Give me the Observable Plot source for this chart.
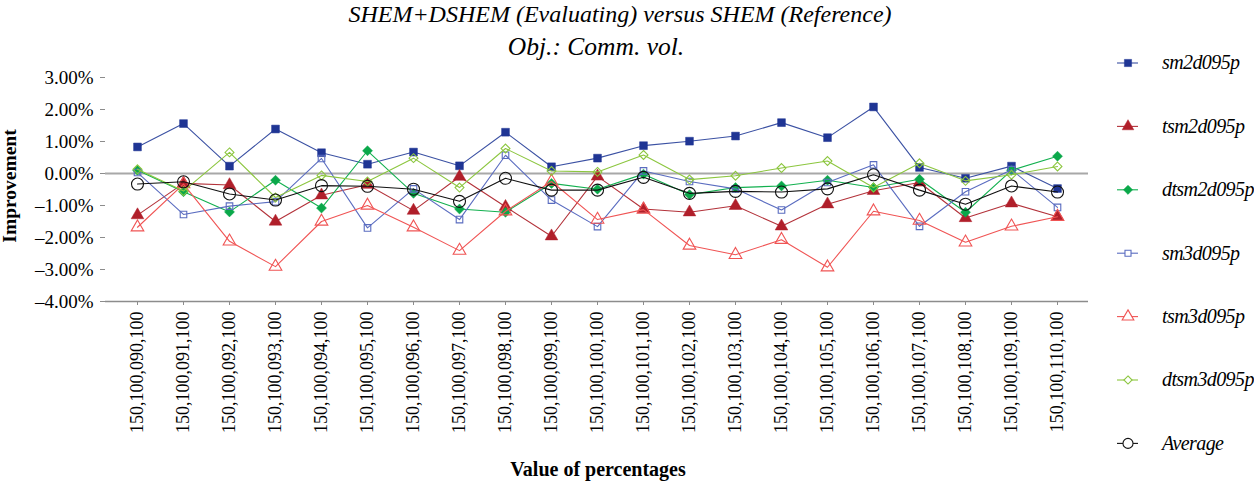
<!DOCTYPE html>
<html>
<head>
<meta charset="utf-8">
<script src="https://cdn.jsdelivr.net/npm/d3@7"></script>
<script src="https://cdn.jsdelivr.net/npm/@observablehq/plot@0.6"></script>
<style>
  html, body { margin: 0; padding: 0; background: #fff; }
  #wrap { position: relative; width: 1254px; height: 482px; overflow: hidden; font-family: "Liberation Serif", serif; color: #000; }
  #wrap svg { position: absolute; left: 0; top: 0; }
</style>
</head>
<body>
<div id="wrap"></div>
<script>
const titleText = "SHEM+DSHEM (Evaluating) versus SHEM (Reference)";
const subtitleText = "Obj.: Comm. vol.";
const yLabelText = "Improvement";
const xLabelText = "Value of percentages";

const categories = [
  "150,100,090,100","150,100,091,100","150,100,092,100","150,100,093,100","150,100,094,100",
  "150,100,095,100","150,100,096,100","150,100,097,100","150,100,098,100","150,100,099,100",
  "150,100,100,100","150,100,101,100","150,100,102,100","150,100,103,100","150,100,104,100",
  "150,100,105,100","150,100,106,100","150,100,107,100","150,100,108,100","150,100,109,100",
  "150,100,110,100"
];
const yTicks = [-4, -3, -2, -1, 0, 1, 2, 3];

// values in percent
const sm2d095p   = [0.83, 1.56, 0.23, 1.39, 0.65, 0.29, 0.67, 0.24, 1.29, 0.21, 0.48, 0.87, 1.01, 1.17, 1.59, 1.12, 2.08, 0.19, -0.15, 0.23, -0.47];
const tsm2d095p  = [-1.30, -0.31, -0.36, -1.50, -0.68, -0.35, -1.16, -0.10, -1.04, -1.96, -0.09, -1.11, -1.21, -1.01, -1.65, -0.96, -0.54, -0.28, -1.39, -0.93, -1.35];
const dtsm2d095p = [0.10, -0.57, -1.20, -0.21, -1.08, 0.71, -0.62, -1.11, -1.21, -0.31, -0.49, -0.02, -0.66, -0.44, -0.39, -0.21, -0.44, -0.18, -1.21, 0.10, 0.54];
const sm3d095p   = [0.03, -1.28, -1.02, -0.88, 0.47, -1.70, -0.48, -1.44, 0.57, -0.83, -1.66, 0.08, -0.25, -0.48, -1.14, -0.28, 0.27, -1.65, -0.57, 0.12, -1.06];
const tsm3d095p  = [-1.68, -0.33, -2.12, -2.91, -1.50, -1.00, -1.68, -2.41, -1.18, -0.25, -1.44, -1.13, -2.25, -2.54, -2.07, -2.93, -1.18, -1.47, -2.15, -1.65, -1.35];
const dtsm3d095p = [0.13, -0.55, 0.66, -0.75, -0.06, -0.25, 0.48, -0.44, 0.78, 0.08, 0.05, 0.58, -0.19, -0.07, 0.17, 0.39, -0.44, 0.32, -0.23, -0.04, 0.22];
const average    = [-0.33, -0.26, -0.64, -0.83, -0.38, -0.40, -0.49, -0.87, -0.15, -0.52, -0.52, -0.12, -0.62, -0.56, -0.58, -0.48, -0.04, -0.52, -0.96, -0.39, -0.58];

const seriesNames = ["sm2d095p", "tsm2d095p", "dtsm2d095p", "sm3d095p", "tsm3d095p", "dtsm3d095p", "Average"];
const seriesValues = [sm2d095p, tsm2d095p, dtsm2d095p, sm3d095p, tsm3d095p, dtsm3d095p, average];

const styles = [
  {line: "#3b51a3", symbol: "square",   fill: "#1f3594", stroke: "#1f3594", r: 4.4},
  {line: "#b3323a", symbol: "triangle", fill: "#b01f2a", stroke: "#b01f2a", r: 4.7},
  {line: "#12b04f", symbol: "diamond2", fill: "#0aa84a", stroke: "#0aa84a", r: 4.5},
  {line: "#5a6cc0", symbol: "square",   fill: "none",    stroke: "#5a6cc0", r: 3.7},
  {line: "#f05454", symbol: "triangle", fill: "none",    stroke: "#f05454", r: 4.7},
  {line: "#8cc63f", symbol: "diamond2", fill: "none",    stroke: "#8cc63f", r: 4.0},
  {line: "#111111", symbol: "circle",   fill: "none",    stroke: "#111111", r: 6.0}
];

const rows = seriesNames.flatMap((s, i) => seriesValues[i].map((v, j) => ({series: s, cat: categories[j], v})));

const fmt = d => (d < 0 ? "\u2013" : "") + Math.abs(d).toFixed(2) + "%";
const FONT = "'Liberation Serif', serif";

const marks = [
  Plot.ruleY([0], {stroke: "#a8a8a8", strokeWidth: 2}),
  Plot.ruleY([-4], {stroke: "#8c8c8c", strokeWidth: 1.5}),
  Plot.axisY({ticks: yTicks, tickFormat: fmt, tickSize: 5, tickPadding: 7, stroke: "#8c8c8c", fill: "#000",
              fontSize: 19, fontFamily: FONT, label: null}),
  Plot.axisX({tickRotate: -90, tickSize: 4, tickPadding: 6, stroke: "#8c8c8c", fill: "#000",
              fontSize: 18, fontFamily: FONT, label: null})
];
seriesNames.forEach((s, i) => {
  const st = styles[i];
  const data = rows.filter(d => d.series === s);
  marks.push(Plot.line(data, {x: "cat", y: "v", stroke: st.line, strokeWidth: 1.1}));
  marks.push(Plot.dot(data, {x: "cat", y: "v", symbol: () => st.symbol, r: st.r,
    fill: st.fill, stroke: st.stroke, strokeWidth: st.fill === "none" ? 1.1 : 0.5}));
});

const chart = Plot.plot({
  width: 1254,
  height: 482,
  marginTop: 77,
  marginBottom: 181,
  marginLeft: 105,
  marginRight: 166,
  style: {fontFamily: FONT, background: "transparent", color: "#000"},
  x: {type: "point", domain: categories, padding: 0.5, label: null},
  y: {domain: [-4, 3], label: null, line: true},
  symbol: {type: "identity"},
  marks
});
document.getElementById("wrap").appendChild(chart);

// overlay: titles, axis titles, legend
const ov = d3.select("#wrap").append("svg").attr("width", 1254).attr("height", 482)
  .style("pointer-events", "none").attr("font-family", FONT);

ov.append("text").attr("x", 620).attr("y", 22).attr("text-anchor", "middle")
  .attr("font-size", 24).attr("font-style", "italic").text(titleText);
ov.append("text").attr("x", 596).attr("y", 55).attr("text-anchor", "middle")
  .attr("font-size", 25.5).attr("font-style", "italic").text(subtitleText);
ov.append("text").attr("transform", "translate(16,186) rotate(-90)").attr("text-anchor", "middle")
  .attr("font-size", 19.5).attr("font-weight", "bold").text(yLabelText);
ov.append("text").attr("x", 598).attr("y", 476).attr("text-anchor", "middle")
  .attr("font-size", 20).attr("font-weight", "bold").text(xLabelText);

const symMap = {square: d3.symbolSquare, triangle: d3.symbolTriangle, diamond2: d3.symbolDiamond2, circle: d3.symbolCircle};
const legendX = 1100, legendTop = 63, legendStep = 63.4;
seriesNames.forEach((s, i) => {
  const st = styles[i];
  const g = ov.append("g").attr("transform", `translate(${legendX},${legendTop + i * legendStep})`);
  g.append("line").attr("x1", 17).attr("x2", 38).attr("y1", 0).attr("y2", 0)
    .attr("stroke", st.line).attr("stroke-width", 1.1);
  g.append("path").attr("transform", "translate(28,0)")
    .attr("d", d3.symbol(symMap[st.symbol], Math.PI * st.r * st.r * (st.symbol === "circle" ? 0.7 : 0.85))())
    .attr("fill", st.fill === "none" ? "#fff" : st.fill).attr("stroke", st.stroke)
    .attr("stroke-width", st.fill === "none" ? 1.1 : 0.5);
  g.append("text").attr("x", 62).attr("y", 0).attr("dy", "0.32em")
    .attr("font-style", "italic").attr("font-size", 20).attr("letter-spacing", "-0.6").text(s);
});
</script>
</body>
</html>
